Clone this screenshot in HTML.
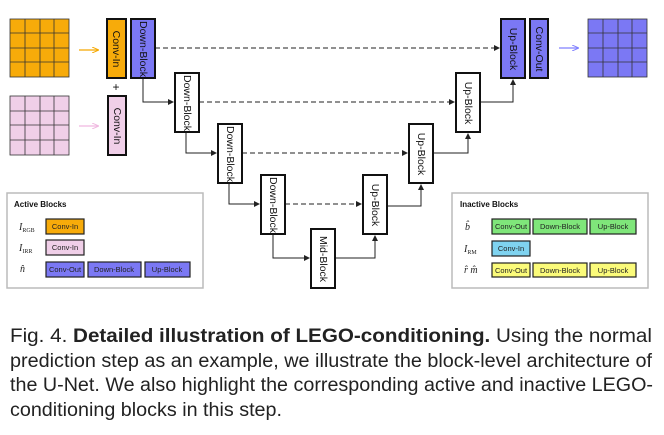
<!DOCTYPE html>
<html><head><meta charset="utf-8"><style>
html,body{margin:0;padding:0;background:#fff;width:664px;height:435px;overflow:hidden}
svg{display:block}
.bl{font-family:"Liberation Sans",sans-serif;font-size:10.5px;fill:#111}
.sm{font-family:"Liberation Sans",sans-serif;font-size:7.5px;fill:#222}
.cap{font-family:"Liberation Sans Narrow","Liberation Sans",sans-serif;font-size:19px;fill:#222}
.it{font-family:"Liberation Serif",serif;font-style:italic;font-size:10px;fill:#222}
</style></head><body>
<svg width="664" height="435" viewBox="0 0 664 435" xmlns="http://www.w3.org/2000/svg">
<defs>
<marker id="a" markerWidth="6" markerHeight="6" refX="5" refY="3" orient="auto" markerUnits="userSpaceOnUse"><path d="M0,0 L6,3 L0,6z" fill="#222"/></marker>
<marker id="ao" markerWidth="7" markerHeight="6" refX="6" refY="3" orient="auto" markerUnits="userSpaceOnUse"><path d="M0,0 L7,3 L0,6" fill="none" stroke="#f5a800" stroke-width="1"/></marker>
<marker id="ap" markerWidth="7" markerHeight="6" refX="6" refY="3" orient="auto" markerUnits="userSpaceOnUse"><path d="M0,0 L7,3 L0,6" fill="none" stroke="#f0b8e0" stroke-width="1"/></marker>
<marker id="ab" markerWidth="7" markerHeight="6" refX="6" refY="3" orient="auto" markerUnits="userSpaceOnUse"><path d="M0,0 L7,3 L0,6" fill="none" stroke="#8080ff" stroke-width="1"/></marker>
</defs>
<g stroke="#333" stroke-width="0.8">
<rect x="10" y="19" width="59" height="58" fill="#f7ab0a"/>
<path d="M25,19V77M40,19V77M54,19V77M10,33H69M10,48H69M10,62H69"/>
<rect x="10" y="96" width="59" height="59" fill="#f0cfe8"/>
<path d="M25,96V155M40,96V155M54,96V155M10,111H69M10,125H69M10,140H69"/>
<rect x="588" y="19" width="59" height="58" fill="#7b78f4"/>
<path d="M603,19V77M618,19V77M632,19V77M588,33H647M588,48H647M588,62H647"/>
</g>
<line x1="79" y1="50" x2="98" y2="50" stroke="#f5a800" stroke-width="1.2" marker-end="url(#ao)"/>
<line x1="79" y1="126" x2="98" y2="126" stroke="#f0b8e0" stroke-width="1.2" marker-end="url(#ap)"/>
<line x1="559" y1="48" x2="578" y2="48" stroke="#8080ff" stroke-width="1.2" marker-end="url(#ab)"/>
<g stroke="#222" stroke-width="1" stroke-dasharray="5,3">
<line x1="155" y1="48" x2="499" y2="48" marker-end="url(#a)"/>
<line x1="199" y1="102" x2="454" y2="102" marker-end="url(#a)"/>
<line x1="242" y1="153" x2="407" y2="153" marker-end="url(#a)"/>
<line x1="285" y1="204" x2="361" y2="204" marker-end="url(#a)"/>
</g>
<g stroke="#222" stroke-width="1" fill="none">
<path d="M143,78V102H173" marker-end="url(#a)"/>
<path d="M186,132V153H216" marker-end="url(#a)"/>
<path d="M229,183V204H259" marker-end="url(#a)"/>
<path d="M273,234V258H309" marker-end="url(#a)"/>
<path d="M335,258H375V236" marker-end="url(#a)"/>
<path d="M387,206H421V185" marker-end="url(#a)"/>
<path d="M433,153H468V134" marker-end="url(#a)"/>
<path d="M480,102H513V80" marker-end="url(#a)"/>
</g>
<g stroke="#111" stroke-width="2">
<rect x="107" y="19" width="19" height="59" fill="#f7ab0a"/>
<rect x="108" y="96" width="18" height="59" fill="#f0cfe8"/>
<rect x="131" y="19" width="24" height="59" fill="#7b78f4"/>
<rect x="175" y="73" width="24" height="59" fill="#fff"/>
<rect x="218" y="124" width="24" height="59" fill="#fff"/>
<rect x="261" y="175" width="24" height="59" fill="#fff"/>
<rect x="311" y="229" width="24" height="59" fill="#fff"/>
<rect x="363" y="175" width="24" height="59" fill="#fff"/>
<rect x="409" y="124" width="24" height="59" fill="#fff"/>
<rect x="456" y="73" width="24" height="59" fill="#fff"/>
<rect x="501" y="19" width="24" height="59" fill="#7b78f4"/>
<rect x="530" y="19" width="18" height="59" fill="#7b78f4"/>
</g>
<g class="bl" text-anchor="middle">
<text transform="translate(113,49) rotate(90)">Conv-In</text>
<text transform="translate(114,126) rotate(90)">Conv-In</text>
<text transform="translate(140,49) rotate(90)">Down-Block</text>
<text transform="translate(184,103) rotate(90)">Down-Block</text>
<text transform="translate(227,154) rotate(90)">Down-Block</text>
<text transform="translate(270,205) rotate(90)">Down-Block</text>
<text transform="translate(320,259) rotate(90)">Mid-Block</text>
<text transform="translate(372,205) rotate(90)">Up-Block</text>
<text transform="translate(418,154) rotate(90)">Up-Block</text>
<text transform="translate(465,103) rotate(90)">Up-Block</text>
<text transform="translate(510,49) rotate(90)">Up-Block</text>
<text transform="translate(536,49) rotate(90)">Conv-Out</text>
</g>
<text x="116" y="91" font-family="Liberation Sans,sans-serif" font-size="12" text-anchor="middle" fill="#111">+</text>
<rect x="7" y="193" width="196" height="95" fill="#fff" stroke="#bbb" stroke-width="1.5"/>
<text x="14" y="207" font-family="Liberation Sans,sans-serif" font-size="8" font-weight="bold" fill="#111">Active Blocks</text>
<text x="19" y="230" class="it">I<tspan font-size="6" font-style="normal" dy="2">RGB</tspan></text>
<text x="19" y="251" class="it">I<tspan font-size="6" font-style="normal" dy="2">IRR</tspan></text>
<text x="20" y="272" class="it">n̂</text>
<g stroke="#222" stroke-width="1.2">
<rect x="46" y="219" width="38" height="15" fill="#f7ab0a"/>
<rect x="46" y="240" width="38" height="15" fill="#f0cfe8"/>
<rect x="46" y="262" width="38" height="15" fill="#7b78f4"/>
<rect x="88" y="262" width="53" height="15" fill="#7b78f4"/>
<rect x="145" y="262" width="45" height="15" fill="#7b78f4"/>
</g>
<g class="sm" text-anchor="middle">
<text x="65" y="229">Conv-In</text><text x="65" y="250">Conv-In</text>
<text x="65" y="272">Conv-Out</text><text x="114" y="272">Down-Block</text><text x="167" y="272">Up-Block</text>
</g>
<rect x="452" y="193" width="196" height="95" fill="#fff" stroke="#bbb" stroke-width="1.5"/>
<text x="460" y="207" font-family="Liberation Sans,sans-serif" font-size="8" font-weight="bold" fill="#111">Inactive Blocks</text>
<text x="465" y="230" class="it">b̂</text>
<text x="464" y="252" class="it">I<tspan font-size="6" font-style="normal" dy="2">RM</tspan></text>
<text x="464" y="273" class="it">r̂  m̂</text>
<g stroke="#222" stroke-width="1.2">
<rect x="492" y="219" width="38" height="15" fill="#7fe67a"/>
<rect x="533" y="219" width="54" height="15" fill="#7fe67a"/>
<rect x="590" y="219" width="46" height="15" fill="#7fe67a"/>
<rect x="492" y="241" width="38" height="15" fill="#7fd3f0"/>
<rect x="492" y="263" width="38" height="14" fill="#fbfb7a"/>
<rect x="533" y="263" width="54" height="14" fill="#fbfb7a"/>
<rect x="590" y="263" width="46" height="14" fill="#fbfb7a"/>
</g>
<g class="sm" text-anchor="middle">
<text x="511" y="229">Conv-Out</text><text x="560" y="229">Down-Block</text><text x="613" y="229">Up-Block</text>
<text x="511" y="251">Conv-In</text>
<text x="511" y="273">Conv-Out</text><text x="560" y="273">Down-Block</text><text x="613" y="273">Up-Block</text>
</g>
<g class="cap">
<text x="10" y="342" textLength="642" lengthAdjust="spacingAndGlyphs">Fig. 4.  <tspan font-weight="bold">Detailed illustration of LEGO-conditioning.</tspan> Using the normal</text>
<text x="10" y="367" textLength="642" lengthAdjust="spacingAndGlyphs">prediction step as an example, we illustrate the block-level architecture of</text>
<text x="10" y="391" textLength="643" lengthAdjust="spacingAndGlyphs">the U-Net. We also highlight the corresponding active and inactive LEGO-</text>
<text x="10" y="416" textLength="272" lengthAdjust="spacingAndGlyphs">conditioning blocks in this step.</text>
</g>
</svg>
</body></html>
